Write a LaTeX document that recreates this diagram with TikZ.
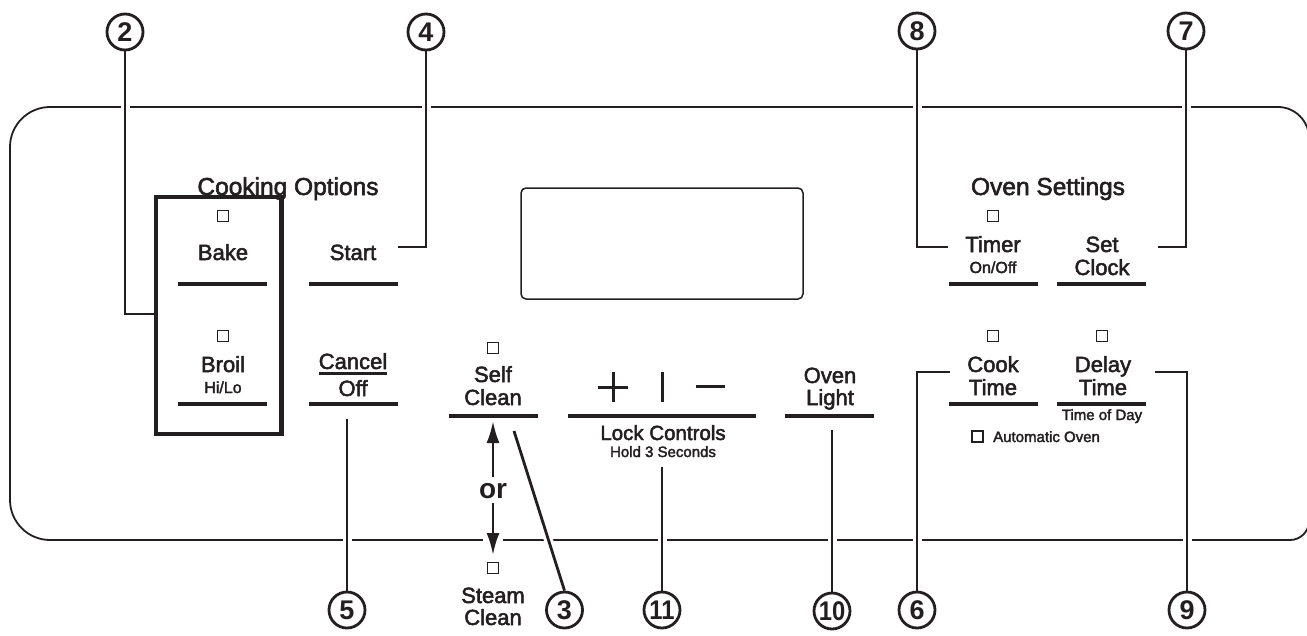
\documentclass[tikz,border=0pt]{standalone}
\usepackage{fontspec}
\setmainfont{Liberation Sans}[UprightFeatures={FakeBold=2.3}]
\newfontfamily\numfont{Liberation Sans Bold}
\usetikzlibrary{arrows.meta}
\definecolor{ink}{RGB}{35,31,32}
\pgfdeclarelayer{back}
\pgfdeclarelayer{lead}
\pgfsetlayers{back,lead,main}
\begin{document}
\begin{tikzpicture}[x=1pt,y=-1pt,
  every node/.style={inner sep=0pt, text=ink},
  lbl/.style={font=\fontsize{22}{22}\selectfont, anchor=base},
  head/.style={font=\fontsize{24.5}{24.5}\selectfont, anchor=base},
  sml/.style={font=\fontsize{16}{16}\selectfont, anchor=base},
  tiny/.style={font=\fontsize{15}{15}\selectfont, anchor=base},
  ulin/.style={draw=ink, line width=3.2pt},
  ind/.style={rectangle, draw=ink, line width=1.1pt, minimum size=11pt, inner sep=0pt},
  num/.style={circle, draw=ink, line width=2.8pt, minimum size=36pt, inner sep=0pt,
              font=\fontsize{27}{27}\numfont},
  leader/.style={draw=ink, line width=2.8pt, preaction={draw=white, line width=9pt}},
  panel/.style={draw=ink, line width=1.8pt}]
\useasboundingbox (0,0) rectangle (1307,635);

% ---------- panel outline ----------
\begin{pgfonlayer}{back}
\draw[panel] (50,107) -- (1278,107)
  .. controls (1295,107) and (1309,121) .. (1309,138)
  -- (1309,521)
  .. controls (1309,531.5) and (1300.5,540) .. (1290,540)
  -- (50,540)
  .. controls (28,540) and (10,522) .. (10,500)
  -- (10,147)
  .. controls (10,125) and (28,107) .. (50,107) -- cycle;
\draw[white, line width=3pt] (483,540) -- (503,540);
\end{pgfonlayer}

% ---------- display ----------
\draw[draw=ink, line width=1.5pt, rounded corners=5pt] (521,188) rectangle (803,299);

% ---------- headings ----------
\node[head] (cookopt) at (288,195) {Cooking Options};
\node[head] (ovenset) at (1048,195) {Oven Settings};

% ---------- Bake / Broil ----------
\node[ind] (sqbake) at (223,216) {};
\node[lbl] (bake) at (223,260) {Bake};
\draw[ulin] (178,284) -- (267,284);
\node[ind] (sqbroil) at (223,336) {};
\node[lbl] (broil) at (223,372) {Broil};
\node[sml] (hilo) at (223,393) {Hi/Lo};
\draw[ulin] (178,404) -- (267,404);
\draw[draw=ink, line width=4.5pt] (156,197) rectangle (281.5,434);

% ---------- Start / Cancel ----------
\node[lbl] (start) at (353,260) {Start};
\draw[ulin] (309,284) -- (398,284);
\node[lbl] (cancel) at (353,369) {Cancel};
\draw[draw=ink, line width=2.2pt] (319,373.5) -- (387,373.5);
\node[lbl] (off) at (353,396) {Off};
\draw[ulin] (309,404) -- (398,404);

% ---------- Self / Steam clean ----------
\node[ind] (sqself) at (493,348) {};
\node[lbl] (self) at (493,382) {Self};
\node[lbl] (selfclean) at (493,405) {Clean};
\draw[ulin] (449,416) -- (538,416);
\node[font=\fontsize{28}{28}\numfont, anchor=base] (or) at (493,498) {or};
\coordinate (atop) at (493,421);
\coordinate (abot) at (493,555);
\draw[draw=ink, line width=2.6pt, -{Latex[length=22pt,width=13pt]}] (493,477) -- (atop);
\draw[draw=ink, line width=2.6pt, -{Latex[length=22pt,width=13pt]}] (493,503) -- (abot);
\node[ind] (sqsteam) at (493,568) {};
\node[lbl] (steam) at (493,603) {Steam};
\node[lbl] (steamclean) at (493,625) {Clean};

% ---------- + | - ----------
\draw[draw=ink, line width=3pt] (598,387) -- (628,387) (613,372) -- (613,402);
\draw[draw=ink, line width=3pt] (662,372) -- (662,402);
\draw[draw=ink, line width=3pt] (696,386.5) -- (725,386.5);
\draw[ulin] (568,416) -- (756,416);
\node[font=\fontsize{20.5}{20.5}\selectfont, anchor=base] (lock) at (663,440) {Lock Controls};
\node[tiny] (hold) at (663,457) {Hold 3 Seconds};

% ---------- Oven Light ----------
\node[lbl] (oven) at (830,383) {Oven};
\node[lbl] (light) at (830,405) {Light};
\draw[ulin] (785,416) -- (874,416);

% ---------- Timer / Set Clock ----------
\node[ind] (sqtimer) at (993,216) {};
\node[lbl] (timer) at (993,252) {Timer};
\node[sml] (onoff) at (993,273) {On/Off};
\draw[ulin] (949,284) -- (1038,284);
\node[lbl] (set) at (1102,252) {Set};
\node[lbl] (clock) at (1102,275) {Clock};
\draw[ulin] (1057,284) -- (1146,284);

% ---------- Cook / Delay time ----------
\node[ind] (sqcook) at (993,336) {};
\node[lbl] (cook) at (993,372) {Cook};
\node[lbl] (cooktime) at (993,395) {Time};
\draw[ulin] (949,404) -- (1038,404);
\node[ind] (sqdelay) at (1102,336) {};
\node[lbl] (delay) at (1103,372) {Delay};
\node[lbl] (delaytime) at (1103,395) {Time};
\draw[ulin] (1057,404) -- (1146,404);
\node[tiny] (tod) at (1102,420) {Time of Day};
\node[ind] (sqauto) at (977.5,436.5) {};
\node[tiny, anchor=base west] (auto) at (993,442) {Automatic Oven};

% ---------- callout numbers ----------
\node[num] (c2) at (125,32) {2};
\node[num] (c4) at (426,32) {4};
\node[num] (c8) at (917,31) {8};
\node[num] (c7) at (1186,31) {7};
\node[num] (c5) at (347,610) {5};
\node[num] (c3) at (564.5,610) {3};
\node[num] (c11) at (662,610) {\scalebox{0.88}[1]{11}};
\node[num] (c10) at (832,611) {\scalebox{0.88}[1]{10}};
\node[num] (c6) at (917,610) {6};
\node[num] (c9) at (1187,610) {9};

% ---------- leader ends ----------
\coordinate (e2) at (154,314);
\coordinate (e4) at (398,247);
\coordinate (e8) at (948,247);
\coordinate (e7) at (1158,247);
\coordinate (e6) at (950,372);
\coordinate (e9) at (1155,372);
\coordinate (e5) at (347,419);
\coordinate (e3) at (514,431);
\coordinate (e11) at (662,467);
\coordinate (e10) at (832,430);

\begin{pgfonlayer}{lead}
\draw[leader] (c2.south) |- (e2);
\draw[leader] (c4.south) |- (e4);
\draw[leader] (c8.south) |- (e8);
\draw[leader] (c7.south) |- (e7);
\draw[leader] (c6.north) |- (e6);
\draw[leader] (c9.north) |- (e9);
\draw[leader] (e5) -- (c5.north);
\draw[leader] (e3) -- (c3.north);
\draw[leader] (e11) -- (c11.north);
\draw[leader] (e10) -- (c10.north);
\end{pgfonlayer}
\end{tikzpicture}
\end{document}
